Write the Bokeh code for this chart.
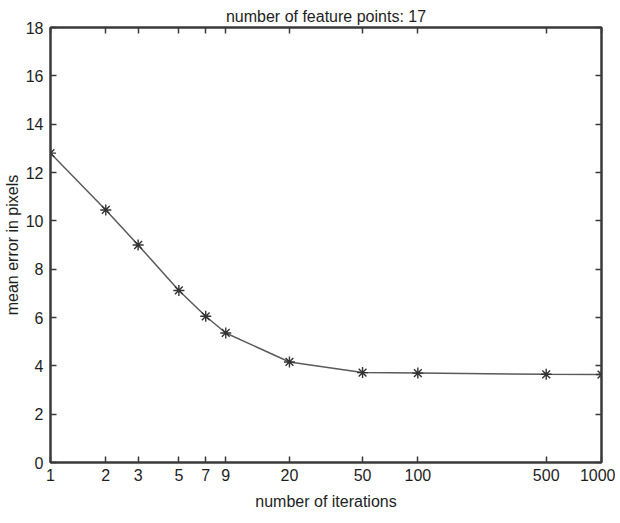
from bokeh.plotting import figure
from bokeh.models import (LogAxis, LinearAxis, FixedTicker, CustomJSTickFormatter,
                          Range1d)
from bokeh.embed import file_html
from bokeh.resources import INLINE

# data
iterations = [1, 2, 3, 5, 7, 9, 20, 50, 100, 500, 1000]
mean_error = [12.8, 10.45, 9.0, 7.12, 6.05, 5.36, 4.16, 3.72, 3.70, 3.65, 3.64]
x_ticks = [1, 2, 3, 5, 7, 9, 20, 50, 100, 500, 1000]
y_ticks = [0, 2, 4, 6, 8, 10, 12, 14, 16, 18]

FONT = "Liberation Sans"
AX = "#3a3a3a"
TXT = "#1e1e1e"

p = figure(x_axis_type="log", output_backend="svg", toolbar_location=None,
           frame_width=551, frame_height=435,
           x_range=Range1d(1, 1000), y_range=Range1d(0, 18),
           min_border_left=46, min_border_right=14, min_border_top=27,
           min_border_bottom=52,
           title="number of feature points: 17")
p.background_fill_color = "white"
p.border_fill_color = "white"
p.outline_line_color = AX
p.outline_line_width = 2
p.grid.visible = False

p.title.align = "center"
p.title.text_font = FONT
p.title.text_font_size = "16px"
p.title.text_font_style = "normal"
p.title.text_color = TXT
p.title.offset = 0
p.title.standoff = 6

def style(ax, ticks, labels=True):
    ax.ticker = FixedTicker(ticks=ticks)
    ax.minor_tick_line_color = None
    ax.major_tick_in = 6
    ax.major_tick_out = 0
    ax.axis_line_color = AX
    ax.axis_line_width = 2
    ax.major_tick_line_color = AX
    ax.major_tick_line_width = 1.5
    ax.major_label_text_font = FONT
    ax.major_label_text_font_size = "16px"
    ax.major_label_text_color = TXT
    ax.axis_label_text_font = FONT
    ax.axis_label_text_font_size = "16px"
    ax.axis_label_text_font_style = "normal"
    ax.axis_label_text_color = TXT
    if not labels:
        ax.formatter = CustomJSTickFormatter(code="return ''")
        ax.major_label_standoff = 0

xa = p.xaxis[0]
style(xa, x_ticks)
xa.axis_label = "number of iterations"
xa.major_label_standoff = 6
xa.axis_label_standoff = 9

ya = p.yaxis[0]
style(ya, y_ticks)
ya.axis_label = "mean error in pixels"
ya.major_label_standoff = 7
ya.axis_label_standoff = 2

top = LogAxis()
style(top, x_ticks, labels=False)
p.add_layout(top, "above")
right = LinearAxis()
style(right, y_ticks, labels=False)
p.add_layout(right, "right")

p.line(iterations, mean_error, line_color="#5a5a5a", line_width=1.5)
p.scatter(iterations, mean_error, marker="asterisk", size=11,
          line_color="#333333", line_width=1.4)

open("out.html", "w").write(file_html(p, INLINE))
